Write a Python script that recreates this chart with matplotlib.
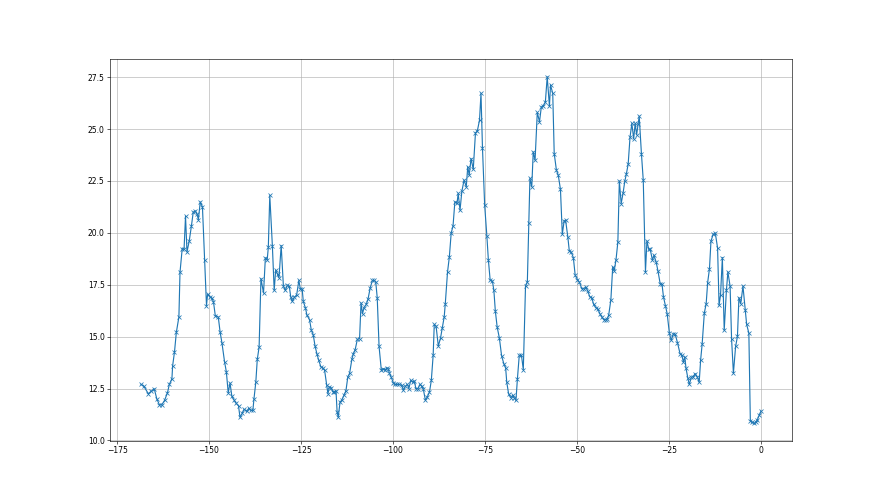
import matplotlib
matplotlib.use("Agg")
import numpy as np
import matplotlib.pyplot as plt

hours_a = [-168.5, -167.7, -166.5, -165.8, -164.9, -164.2, -163.5, -162.9, -162.1, -161.3,
           -160.8, -160.1, -159.9, -159.4, -158.9, -158.2, -157.9, -157.3, -156.8, -156.4,
           -156.0, -155.4, -154.8, -154.3, -153.7, -153.3, -152.9, -152.4, -151.8, -151.2,
           -150.7, -150.4, -149.7, -149.2, -148.8, -148.3, -147.5, -147.0, -146.5, -145.8,
           -145.3, -144.8, -144.3, -143.8, -143.2, -142.7, -142.0, -141.6, -141.0, -140.5,
           -139.8, -139.2, -138.7, -138.1, -137.8, -137.3, -136.9, -136.4, -135.9, -135.2,
           -134.7, -134.2, -133.9, -133.5]
vals_a = [12.70, 12.6, 12.25, 12.36, 12.49, 12.0, 11.72, 11.7, 11.93, 12.3,
          12.7, 12.97, 13.6, 14.26, 15.2, 15.95, 18.1, 19.24, 19.2, 20.8,
          19.08, 19.6, 20.33, 21.0, 21.05, 20.9, 20.64, 21.49, 21.25, 18.7,
          16.5, 17.04, 16.9, 16.85, 16.67, 16.0, 15.95, 15.22, 14.7, 13.8,
          13.3, 12.3, 12.76, 12.12, 11.95, 11.8, 11.67, 11.12, 11.3, 11.5,
          11.4, 11.55, 11.45, 11.45, 12.0, 12.8, 13.9, 14.5, 17.8, 17.1,
          18.8, 18.7, 19.3, 21.8]

hours_b = [-132.8, -132.3, -131.9, -131.4, -131.0, -130.4, -129.8, -129.3, -128.7, -128.2,
           -127.8, -127.4, -126.8, -126.2, -125.6, -125.2, -124.7, -124.4, -123.8, -123.4,
           -122.7, -122.2, -121.7, -121.2, -120.7, -120.2, -119.6, -119.1, -118.6, -118.0,
           -117.7, -117.3, -116.8, -116.4, -116.0, -115.5, -115.2, -114.9, -114.4, -113.9,
           -113.3, -112.8, -112.3, -111.8, -111.2, -110.8, -110.3, -109.7, -109.1, -108.7,
           -108.3, -107.9, -107.3, -106.8, -106.2, -105.6, -105.1, -104.7, -104.3, -103.8,
           -103.2, -102.6, -102.1, -101.6, -101.3, -101.0, -100.5, -99.9, -99.4, -98.8,
           -98.3]
vals_b = [19.39, 17.23, 18.2, 18.0, 17.84, 19.39, 17.43, 17.23, 17.47, 17.43,
          16.91, 16.7, 16.91, 17.0, 17.71, 17.3, 17.3, 16.70, 16.38, 16.03,
          15.82, 15.3, 15.1, 14.55, 14.18, 13.86, 13.54, 13.5, 13.38, 12.65,
          12.25, 12.57, 12.54, 12.35, 12.35, 12.38, 11.37, 11.12, 11.85, 11.95,
          12.2, 12.4, 13.05, 13.24, 13.9, 14.18, 14.37, 14.87, 14.9, 16.62,
          16.1, 16.4, 16.55, 16.81, 17.36, 17.71, 17.71, 17.63, 16.88, 14.53,
          13.41, 13.45, 13.41, 13.5, 13.45, 13.24, 13.05, 12.76, 12.7, 12.7,
          12.7]

hours_c = [-97.6, -97.2, -96.7, -96.1, -95.7, -95.2, -94.7, -94.2, -93.8, -93.2,
           -92.7, -92.2, -91.8, -91.2, -90.7, -90.1, -89.6, -89.1, -88.8, -88.3,
           -87.7, -87.1, -86.6, -86.1, -85.8, -85.2, -84.7, -84.2, -83.7, -83.2,
           -82.6, -82.3, -81.8, -81.3, -80.7, -80.1, -79.7, -79.3, -78.8, -78.2,
           -77.6, -77.1, -76.5, -76.1, -75.7, -75.1, -74.5, -74.1, -73.6, -73.0,
           -72.6, -72.2, -71.7, -71.1, -70.5, -69.9, -69.4, -69.1, -68.6, -68.0,
           -67.5, -67.1, -66.6, -66.2, -65.7, -65.1, -64.6, -64.0, -63.5, -63.1,
           -62.8]
vals_c = [12.65, 12.41, 12.6, 12.7, 12.5, 12.89, 12.81, 12.86, 12.5, 12.5,
          12.7, 12.6, 12.5, 11.93, 12.1, 12.33, 12.89, 14.1, 15.59, 15.5,
          14.55, 14.93, 15.43, 15.95, 16.59, 18.1, 18.84, 19.99, 20.33, 21.49,
          21.44, 21.9, 21.09, 22.0, 22.54, 22.22, 23.18, 22.78, 23.58, 23.06,
          24.82, 24.9, 25.43, 26.72, 24.11, 21.33, 19.84, 18.71, 17.71, 17.68,
          17.23, 16.23, 15.46, 14.93, 14.08, 13.7, 13.5, 12.81, 12.25, 12.06,
          12.17, 12.06, 11.93, 12.97, 14.1, 14.1, 13.41, 17.43, 17.64, 20.48,
          22.62]

hours_d = [-62.3, -61.9, -61.4, -60.8, -60.2, -59.7, -59.2, -58.6, -58.1, -57.5,
           -57.2, -56.6, -56.2, -55.6, -55.1, -54.5, -54.0, -53.5, -53.1, -52.5,
           -52.1, -51.6, -51.0, -50.5, -49.9, -49.4, -48.7, -48.2, -47.6, -47.1,
           -46.5, -46.0, -45.5, -44.9, -44.4, -43.8, -43.3, -42.7, -42.2, -41.8,
           -41.4, -40.8, -40.3, -39.9, -39.4, -38.9, -38.5, -38.0, -37.5, -37.0,
           -36.6, -36.1, -35.6, -35.1, -34.6, -34.2, -33.8, -33.4, -33.1, -32.5,
           -32.0, -31.4, -31.0, -30.5, -30.1, -29.5, -29.1, -28.5, -28.0, -27.4]
vals_d = [22.22, 23.9, 23.5, 25.8, 25.35, 26.07, 26.1, 26.31, 27.52, 26.1,
          27.12, 26.72, 23.82, 23.02, 22.78, 22.09, 19.93, 20.58, 20.6, 19.8,
          19.13, 19.08, 18.81, 17.96, 17.75, 17.64, 17.31, 17.31, 17.39, 17.2,
          16.91, 16.88, 16.56, 16.4, 16.35, 16.11, 15.95, 15.82, 15.82, 15.87,
          16.03, 16.78, 18.36, 18.17, 18.71, 19.56, 22.5, 21.41, 21.9, 22.5,
          22.83, 23.31, 24.6, 25.27, 24.53, 25.27, 24.72, 25.24, 25.62, 23.82,
          22.54, 18.12, 19.61, 19.2, 19.2, 18.68, 18.92, 18.6, 18.16, 17.55]

hours_e = [-26.9, -26.5, -26.0, -25.5, -24.9, -24.4, -23.8, -23.3, -22.7, -22.0,
           -21.5, -21.1, -20.7, -20.4, -19.9, -19.5, -18.9, -18.4, -17.9, -17.3,
           -16.8, -16.4, -16.0, -15.4, -14.9, -14.5, -14.0, -13.6, -13.0, -12.4,
           -11.8, -11.4, -11.0, -10.5, -10.0, -9.4, -9.0, -8.4, -8.0, -7.5,
           -6.9, -6.4, -6.0, -5.5, -4.9, -4.3, -3.9, -3.3, -2.9, -2.4,
           -1.9, -1.4, -1.0, -0.5, 0.0]
vals_e = [17.52, 16.91, 16.5, 16.11, 15.17, 14.82, 15.14, 15.11, 14.71, 14.18,
          14.1, 13.78, 14.02, 13.5, 13.02, 12.7, 13.05, 13.08, 13.22, 13.05,
          12.8, 13.89, 14.63, 16.14, 16.59, 17.6, 18.28, 19.6, 19.93, 19.97,
          19.27, 16.51, 17.0, 18.81, 15.3, 17.23, 18.12, 17.43, 14.9, 13.24,
          14.53, 15.01, 16.88, 16.59, 17.43, 16.3, 15.59, 15.17, 10.96, 10.88,
          10.83, 10.88, 11.0, 11.21, 11.41]

hours = np.array(hours_a + hours_b + hours_c + hours_d + hours_e)
vals = np.array(vals_a + vals_b + vals_c + vals_d + vals_e)

fig = plt.figure(figsize=(16, 9), dpi=55)
ax = plt.subplot()
plt.plot(hours, vals, marker='x')
plt.grid(True)
plt.savefig('out.png', dpi=55)
